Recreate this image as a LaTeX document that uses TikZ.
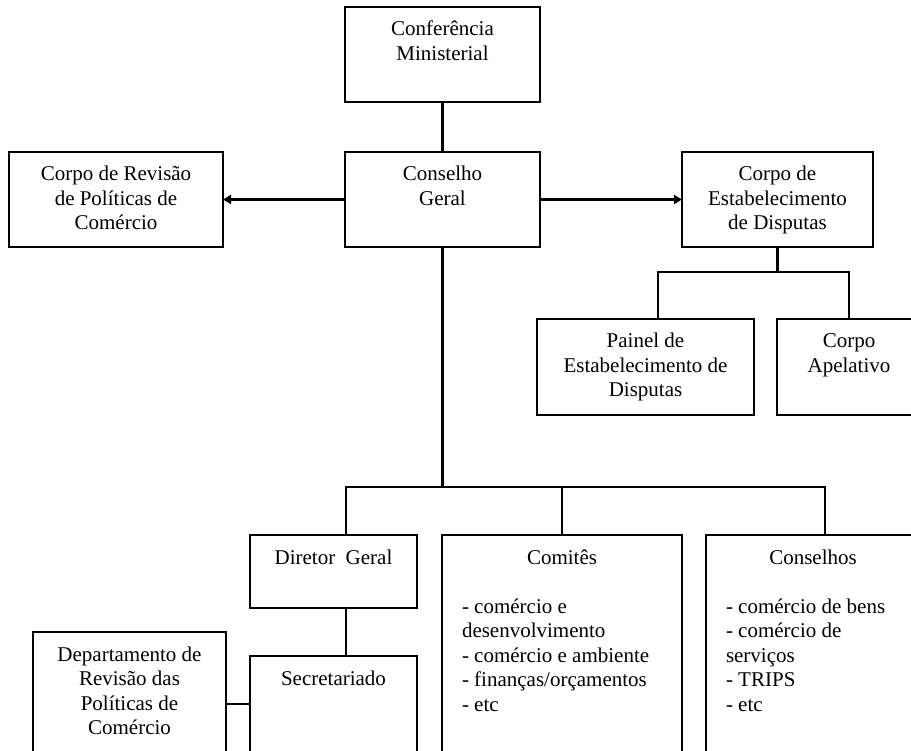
\documentclass[tikz,border=0pt]{standalone}
\usepackage{fontspec}
\setmainfont{Liberation Serif}
\usetikzlibrary{arrows.meta}
\newcommand{\bxt}[3]{\parbox[c][#2pt][t]{#1pt}{\centering\rule{0pt}{29pt}#3\par}}
\newcommand{\lbxt}[4]{\parbox[c][#2pt][t]{#1pt}{\centering\rule{0pt}{29pt}#3\par\vspace{24.5pt}\raggedright\leftskip=20pt #4\par}}
\begin{document}
\begin{tikzpicture}[x=1pt,y=-1pt,
  box/.style={draw, line width=2.4pt, inner sep=0pt, outer sep=0pt, anchor=north west, font=\fontsize{21}{24.5}\selectfont},
  conn/.style={line width=2.4pt},
  arr/.style={conn, -{Triangle[length=8pt,width=9pt]}}]
\useasboundingbox (0,0) rectangle (911,751);
\clip (0,0) rectangle (911,751);
\fill[white] (0,0) rectangle (911,751);
% top row
\node[box] (conf) at (345,7) {\bxt{195}{95}{Conferência\\Ministerial}};
\node[box] (cg) at (345,152) {\bxt{195}{95}{Conselho\\Geral}};
\node[box] (crp) at (9,152) {\bxt{214}{95}{Corpo de Revisão\\de Políticas de\\Comércio}};
\node[box] (ced) at (682,152) {\bxt{191}{95}{Corpo de\\Estabelecimento\\de Disputas}};
% dispute level
\node[box] (painel) at (537,319) {\bxt{217}{96}{Painel de\\Estabelecimento de\\Disputas}};
\node[box] (apel) at (777,319) {\bxt{144}{96}{Corpo\\Apelativo}};
% bottom level
\node[box] (dir) at (250,535) {\bxt{167}{73}{Diretor~~Geral}};
\node[box] (sec) at (250,656) {\bxt{167}{120}{Secretariado}};
\node[box] (dep) at (33,632) {\bxt{193}{140}{Departamento de\\Revisão das\\Políticas de\\Comércio}};
\node[box] (com) at (442,535) {\lbxt{240}{240}{Comitês}{- comércio e\\desenvolvimento\\- comércio e ambiente\\- finanças/orçamentos\\- etc}};
\node[box] (cons) at (706,535) {\lbxt{214}{240}{Conselhos}{- comércio de bens\\- comércio de\\serviços\\- TRIPS\\- etc}};
% connectors
\draw[conn] (conf.south) -- (cg.north);
\draw[arr] (cg.west) -- (crp.east);
\draw[arr] (cg.east) -- (ced.west);
\coordinate (dj) at (777.5,272);
\draw[conn] (ced.south) -- (dj);
\draw[conn] ([xshift=12.5pt]painel.north) |- (dj);
\draw[conn] (apel.north) |- (dj);
\coordinate (j) at (442.5,487);
\draw[conn] (cg.south) -- (j);
\draw[conn] ([xshift=12.5pt]dir.north) |- (j);
\draw[conn] (com.north) |- (j);
\draw[conn] ([xshift=12pt]cons.north) |- (j);
\draw[conn] ([xshift=12.5pt]dir.south) -- ([xshift=12.5pt]sec.north);
\draw[conn] (dep.east |- 0,704) -- (sec.west |- 0,704);
\end{tikzpicture}
\end{document}
